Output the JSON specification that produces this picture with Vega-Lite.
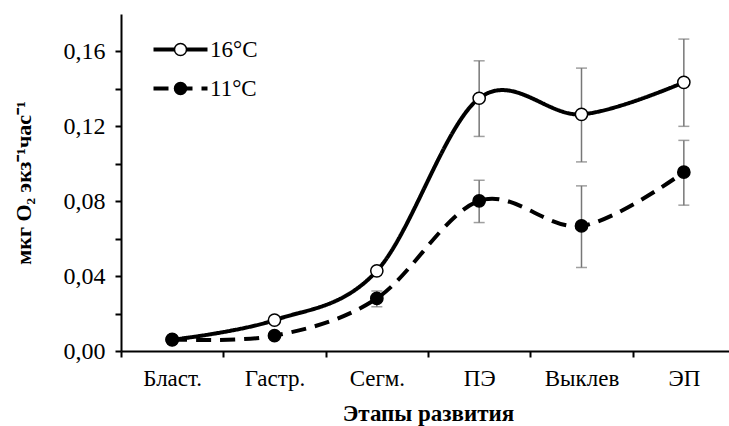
{
  "$schema": "https://vega.github.io/schema/vega-lite/v6.json",
  "autosize": {"type": "none"},
  "padding": {"left": 121, "top": 14, "right": 0, "bottom": 75},
  "width": 614,
  "height": 337,
  "background": "white",
  "config": {
    "view": {"stroke": null},
    "axis": {
      "domainColor": "black", "domainWidth": 2, "tickColor": "black", "tickWidth": 2, "tickSize": 6,
      "labelColor": "black", "titleColor": "black", "grid": false
    },
    "legend": {"labelFont": "Liberation Serif", "labelFontSize": 23, "labelColor": "black"}
  },
  "data": {"values": [
    {"stage": "Бласт.", "temp": "16°C", "t": "16", "v": 0.006, "lo": null, "hi": null},
    {"stage": "Гастр.", "temp": "16°C", "t": "16", "v": 0.0165, "lo": null, "hi": null},
    {"stage": "Сегм.", "temp": "16°C", "t": "16", "v": 0.0428, "lo": null, "hi": null},
    {"stage": "ПЭ", "temp": "16°C", "t": "16", "v": 0.135, "lo": 0.1146, "hi": 0.155},
    {"stage": "Выклев", "temp": "16°C", "t": "16", "v": 0.1264, "lo": 0.101, "hi": 0.1511},
    {"stage": "ЭП", "temp": "16°C", "t": "16", "v": 0.1435, "lo": 0.12, "hi": 0.1666},
    {"stage": "Бласт.", "temp": "11°C", "t": "11", "v": 0.0062, "lo": null, "hi": null},
    {"stage": "Гастр.", "temp": "11°C", "t": "11", "v": 0.0082, "lo": null, "hi": null},
    {"stage": "Сегм.", "temp": "11°C", "t": "11", "v": 0.0281, "lo": 0.0236, "hi": 0.032},
    {"stage": "ПЭ", "temp": "11°C", "t": "11", "v": 0.0802, "lo": 0.0686, "hi": 0.0912},
    {"stage": "Выклев", "temp": "11°C", "t": "11", "v": 0.0668, "lo": 0.0446, "hi": 0.0882},
    {"stage": "ЭП", "temp": "11°C", "t": "11", "v": 0.0955, "lo": 0.0779, "hi": 0.1125}
  ]},
  "encoding": {
    "x": {
      "field": "stage", "type": "nominal",
      "sort": ["Бласт.", "Гастр.", "Сегм.", "ПЭ", "Выклев", "ЭП"],
      "scale": {"type": "band", "paddingInner": 0, "paddingOuter": 0},
      "axis": {
        "title": "Этапы развития", "labelAngle": 0, "tickBand": "extent", "labelPadding": 10, "titlePadding": 12,
        "labelFont": "Liberation Serif", "labelFontSize": 23, "titleFont": "Liberation Serif", "titleFontSize": 23, "titleFontWeight": "bold"
      }
    }
  },
  "layer": [
    {
      "transform": [{"filter": "datum.lo != null"}],
      "mark": {"type": "rule", "color": "#777777", "strokeWidth": 1.5},
      "encoding": {
        "y": {"field": "lo", "type": "quantitative"},
        "y2": {"field": "hi"}
      }
    },
    {
      "transform": [{"filter": "datum.lo != null"}],
      "mark": {"type": "tick", "color": "#777777", "thickness": 1.5, "size": 11},
      "encoding": {"y": {"field": "lo", "type": "quantitative"}}
    },
    {
      "transform": [{"filter": "datum.lo != null"}],
      "mark": {"type": "tick", "color": "#777777", "thickness": 1.5, "size": 11},
      "encoding": {"y": {"field": "hi", "type": "quantitative"}}
    },
    {
      "mark": {"type": "line", "interpolate": "cardinal", "color": "black", "strokeWidth": 4},
      "encoding": {
        "y": {
          "field": "v", "type": "quantitative",
          "scale": {"domain": [0, 0.18], "nice": false, "zero": true},
          "axis": {
            "title": "мкг O₂ экз⁻¹час⁻¹",
            "values": [0, 0.02, 0.04, 0.06, 0.08, 0.1, 0.12, 0.14, 0.16],
            "labelExpr": "round(datum.value*100) % 4 == 0 ? replace(format(datum.value, '.2f'), '.', ',') : ''",
            "labelPadding": 10, "titlePadding": 28,
            "labelFont": "Liberation Serif", "labelFontSize": 24, "titleFont": "Liberation Serif", "titleFontSize": 22, "titleFontWeight": "bold"
          }
        },
        "strokeDash": {
          "field": "temp", "type": "nominal",
          "scale": {"domain": ["16°C", "11°C"], "range": [[1, 0], [15, 9]]},
          "legend": {
            "title": null, "orient": "none", "legendX": 48, "legendY": 24,
            "symbolType": "M-4.5,0H4.5", "symbolSize": 144, "symbolStrokeWidth": 4, "symbolStrokeColor": "black",
            "symbolFillColor": "transparent",
            "labelOpacity": 0, "labelOffset": 18, "rowPadding": 15
          }
        }
      }
    },
    {
      "mark": {"type": "point", "filled": true, "stroke": "black", "strokeWidth": 1.5, "size": 150, "opacity": 1},
      "encoding": {
        "y": {"field": "v", "type": "quantitative"},
        "fill": {
          "field": "t", "type": "nominal",
          "scale": {"domain": ["16", "11"], "range": ["white", "black"]},
          "legend": {
            "title": null, "orient": "none", "legendX": 48, "legendY": 24,
            "symbolType": "circle", "symbolSize": 144, "symbolStrokeWidth": 1.5, "symbolStrokeColor": "black", "symbolOpacity": 1,
            "labelExpr": "datum.label + '°C'",
            "labelOffset": 18, "rowPadding": 15
          }
        }
      }
    }
  ]
}
